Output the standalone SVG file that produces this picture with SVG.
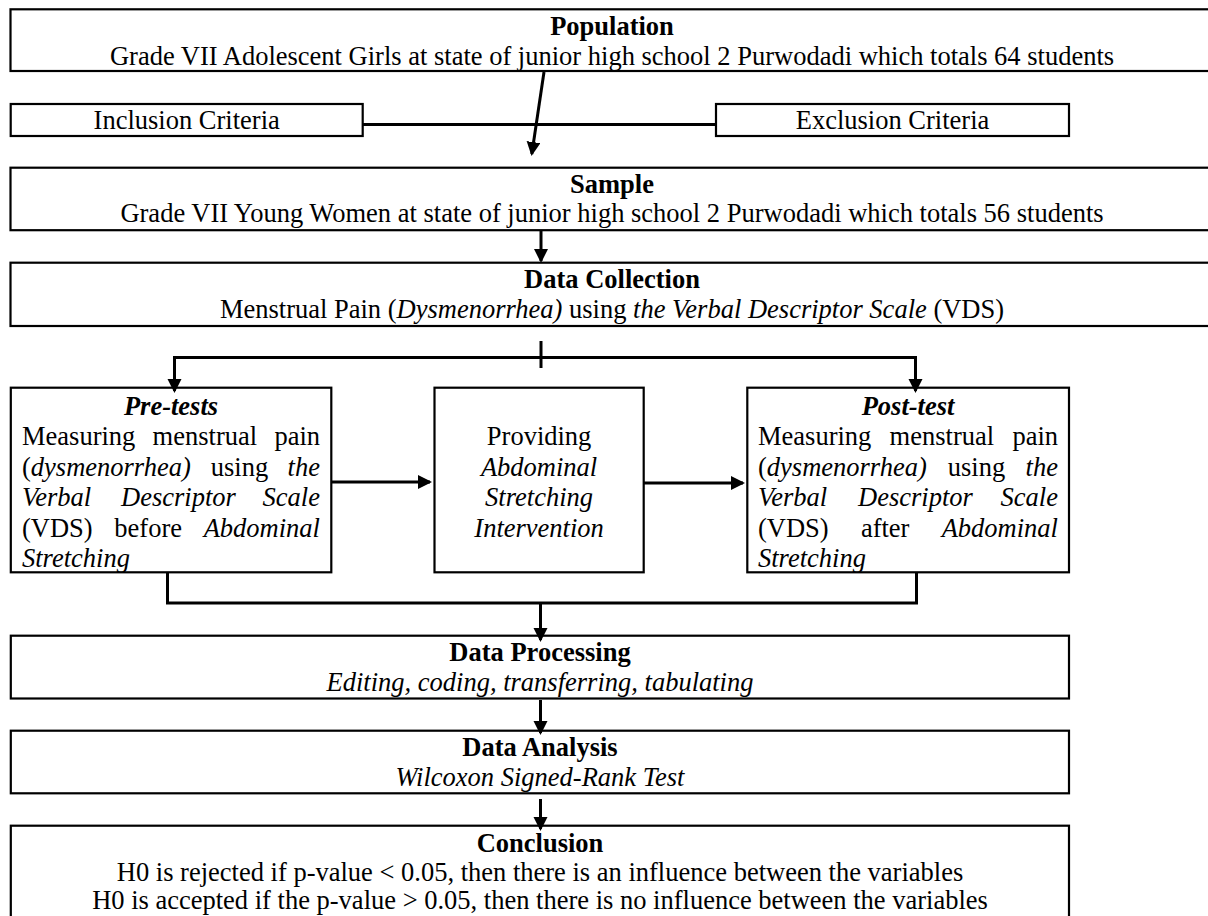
<svg xmlns="http://www.w3.org/2000/svg" width="1208" height="916" viewBox="0 0 1208 916">
<style>
text{font-family:"Liberation Serif","Times New Roman",serif;font-size:26.5px;fill:#000}
.b{font-weight:bold}
.i{font-style:italic}
.c{text-anchor:middle}
.box{fill:#fff;stroke:#000;stroke-width:2.2}
.con{fill:none;stroke:#000;stroke-width:3}
</style>
<defs>
<marker id="ah" markerUnits="userSpaceOnUse" markerWidth="16" markerHeight="16" refX="12" refY="7" orient="auto">
<path d="M0,0 L14,7 L0,14 z" fill="#000"/>
</marker>
</defs>
<rect x="0" y="0" width="1208" height="916" fill="#fff"/>

<g id="population">
<rect class="box" x="10.5" y="9.3" width="1203" height="61.7"/>
<text class="b c" x="612" y="35">Population</text>
<text class="c" x="612" y="64.5">Grade VII Adolescent Girls at state of junior high school 2 Purwodadi which totals 64 students</text>
</g>

<g id="inclusion">
<rect class="box" x="10.7" y="104" width="352" height="32"/>
<text class="c" x="186.7" y="129">Inclusion Criteria</text>
</g>

<g id="exclusion">
<rect class="box" x="716" y="104" width="353" height="32"/>
<text class="c" x="892.5" y="129">Exclusion Criteria</text>
</g>

<g id="sample">
<rect class="box" x="10.5" y="167.7" width="1203" height="62.5"/>
<text class="b c" x="612" y="193">Sample</text>
<text class="c" x="612" y="222">Grade VII Young Women at state of junior high school 2 Purwodadi which totals 56 students</text>
</g>

<g id="data-collection">
<rect class="box" x="10.5" y="262.7" width="1203" height="63.3"/>
<text class="b c" x="612" y="288">Data Collection</text>
<text class="c" x="612" y="318">Menstrual Pain (<tspan class="i">Dysmenorrhea)</tspan> using <tspan class="i">the Verbal Descriptor Scale</tspan> (VDS)</text>
</g>

<g id="pre-tests">
<rect class="box" x="10.8" y="387.7" width="320.5" height="184.6"/>
<text class="b i c" x="171" y="414.5">Pre-tests</text>
<text y="445"><tspan x="22">Measuring</tspan><tspan x="152.6">menstrual</tspan><tspan x="274.4">pain</tspan></text>
<text y="475.5"><tspan x="22">(<tspan class="i">dysmenorrhea)</tspan></tspan><tspan x="210.8">using</tspan><tspan x="287.6" class="i">the</tspan></text>
<text y="506" class="i"><tspan x="22">Verbal</tspan><tspan x="121">Descriptor</tspan><tspan x="262.6">Scale</tspan></text>
<text y="536.5"><tspan x="22">(VDS)</tspan><tspan x="114.3">before</tspan><tspan x="203.7" class="i">Abdominal</tspan></text>
<text y="567" class="i" x="22">Stretching</text>
</g>

<g id="providing">
<rect class="box" x="434.5" y="387.7" width="209.2" height="184.6"/>
<text class="c" x="539.1" y="445">Providing</text>
<text class="c i" x="539.1" y="475.5">Abdominal</text>
<text class="c i" x="539.1" y="506">Stretching</text>
<text class="c i" x="539.1" y="536.5">Intervention</text>
</g>

<g id="post-test">
<rect class="box" x="747.3" y="387.7" width="321.7" height="184.6"/>
<text class="b i c" x="908" y="414.5">Post-test</text>
<text y="445"><tspan x="758">Measuring</tspan><tspan x="889.6">menstrual</tspan><tspan x="1012.4">pain</tspan></text>
<text y="475.5"><tspan x="758">(<tspan class="i">dysmenorrhea)</tspan></tspan><tspan x="947.8">using</tspan><tspan x="1025.6" class="i">the</tspan></text>
<text y="506" class="i"><tspan x="758">Verbal</tspan><tspan x="858">Descriptor</tspan><tspan x="1000.6">Scale</tspan></text>
<text y="536.5"><tspan x="758">(VDS)</tspan><tspan x="860.9">after</tspan><tspan x="941.7" class="i">Abdominal</tspan></text>
<text y="567" class="i" x="758">Stretching</text>
</g>

<g id="data-processing">
<rect class="box" x="10.8" y="635.7" width="1058.2" height="62.8"/>
<text class="b c" x="540" y="661">Data Processing</text>
<text class="i c" x="540" y="691">Editing, coding, transferring, tabulating</text>
</g>

<g id="data-analysis">
<rect class="box" x="10.8" y="730.7" width="1058.2" height="62.6"/>
<text class="b c" x="540" y="756">Data Analysis</text>
<text class="i c" x="540" y="786">Wilcoxon Signed-Rank Test</text>
</g>

<g id="conclusion">
<rect class="box" x="10.8" y="825.7" width="1058.2" height="120"/>
<text class="b c" x="540" y="851.5">Conclusion</text>
<text class="c" x="540" y="880.5">H0 is rejected if p-value &lt; 0.05, then there is an influence between the variables</text>
<text class="c" x="540" y="908.5">H0 is accepted if the p-value &gt; 0.05, then there is no influence between the variables</text>
</g>

<g id="connectors">
<line class="con" x1="544" y1="72" x2="531.8" y2="154" marker-end="url(#ah)"/>
<line class="con" x1="363" y1="124.5" x2="716" y2="124.5"/>
<line class="con" x1="541" y1="231" x2="541" y2="261" marker-end="url(#ah)"/>
<line class="con" x1="541" y1="341" x2="541" y2="368"/>
<line class="con" x1="173" y1="357.5" x2="917" y2="357.5"/>
<line class="con" x1="174.5" y1="357.5" x2="174.5" y2="391" marker-end="url(#ah)"/>
<line class="con" x1="915.5" y1="357.5" x2="915.5" y2="391" marker-end="url(#ah)"/>
<line class="con" x1="331.5" y1="482" x2="430" y2="482" marker-end="url(#ah)"/>
<line class="con" x1="644" y1="483" x2="743" y2="483" marker-end="url(#ah)"/>
<path class="con" d="M167.5,572.5 V603 H916.5 V572.5"/>
<line class="con" x1="540.5" y1="603" x2="540.5" y2="640" marker-end="url(#ah)"/>
<line class="con" x1="540.5" y1="700" x2="540.5" y2="733" marker-end="url(#ah)"/>
<line class="con" x1="540.5" y1="799" x2="540.5" y2="829" marker-end="url(#ah)"/>
</g>
</svg>
